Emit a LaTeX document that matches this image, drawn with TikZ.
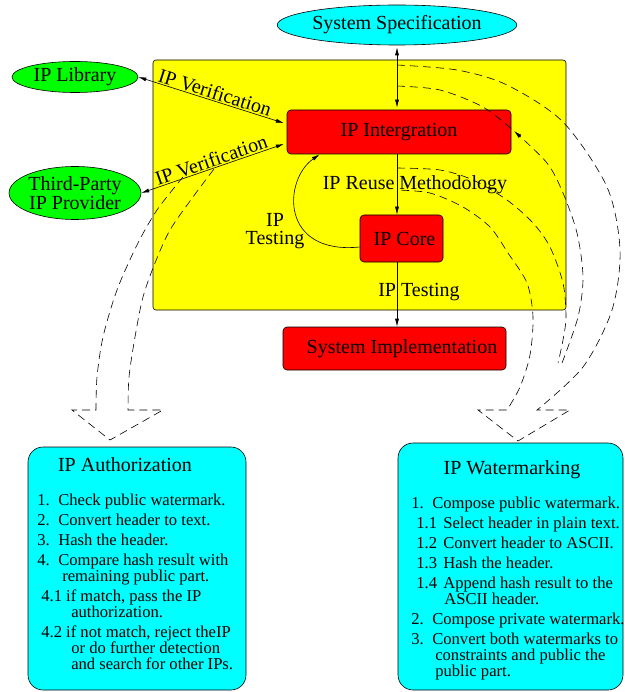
\documentclass[tikz,border=0pt]{standalone}
\usepackage{fontspec}
\setmainfont{Liberation Serif}
\usetikzlibrary{shapes.geometric,arrows.meta}

\definecolor{ipyellow}{RGB}{255,255,0}
\definecolor{ipred}{RGB}{255,0,0}
\definecolor{ipgreen}{RGB}{0,255,0}
\definecolor{ipcyan}{RGB}{0,255,255}

\tikzset{
  >={Latex[length=8pt,width=4pt]},
  every node/.style={font=\fontsize{20}{18}\selectfont},
  redbox/.style={draw,fill=ipred,rounded corners=4pt,inner sep=0pt},
  oval/.style={draw,ellipse,inner sep=0pt,align=center},
  notebox/.style={draw,fill=ipcyan,rounded corners=15pt,inner sep=0pt},
  steps/.style={anchor=north west,inner sep=0pt,align=left,font=\fontsize{16.6}{16}\selectfont},
  band/.style={dash pattern=on 8pt off 5pt}
}

\begin{document}
\begin{tikzpicture}[x=1pt,y=-1pt,line width=0.6pt]
  \useasboundingbox (0,0) rectangle (624,692);

  \node[draw,fill=ipyellow,rounded corners=3pt,minimum width=413pt,minimum height=250pt] (flow) at (359.5,185) {};

  \node[oval,fill=ipcyan,minimum width=224pt,minimum height=40pt] (spec) at (397,25) {System Specification};
  \node[oval,fill=ipgreen,minimum width=126pt,minimum height=31pt] (lib) at (75,77) {IP Library};
  \node[oval,fill=ipgreen,minimum width=126pt,minimum height=53pt] (third) at (75,193) {Third-Party\\IP Provider};

  \node[redbox,minimum width=224pt,minimum height=44pt] (integ) at (399,132) {IP Intergration};
  \node[redbox,minimum width=83pt,minimum height=47pt] (core) at (401.5,238.5) {\hspace*{6pt}IP Core};
  \node[redbox,minimum width=223pt,minimum height=43pt] (impl) at (394.5,348.5) {\hspace*{15pt}System Implementation};

  \node[align=center] (looplbl) at (275,231) {IP\\Testing};

  % the two notes below
  \node[notebox,minimum width=218pt,minimum height=243pt] (auth) at (137,568.5) {};
  \node (authtitle) at (125,465) {IP Authorization};
  \node[steps] (authsteps) at (37,493.5) {%
    \makebox[21pt][l]{1.}Check public watermark.\\[4pt]
    \makebox[21pt][l]{2.}Convert header to text.\\[4pt]
    \makebox[21pt][l]{3.}Hash the header.\\[4pt]
    \makebox[21pt][l]{4.}Compare hash result with\\
    \hspace*{25pt}remaining public part.\\[4pt]
    \hspace*{4pt}4.1 if match, pass the IP\\
    \hspace*{34pt}authorization.\\[4pt]
    \hspace*{4pt}4.2 if not match, reject theIP\\
    \hspace*{34pt}or do further detection\\
    \hspace*{34pt}and search for other IPs.};

  \node[notebox,minimum width=225pt,minimum height=247pt] (mark) at (510.5,566.5) {};
  \node (marktitle) at (512,470) {IP Watermarking};
  \node[steps] (marksteps) at (411,497) {%
    \makebox[21pt][l]{1.}Compose public watermark.\\[4pt]
    \hspace*{5pt}\makebox[27pt][l]{1.1}Select header in plain text.\\[4pt]
    \hspace*{5pt}\makebox[27pt][l]{1.2}Convert header to ASCII.\\[4pt]
    \hspace*{5pt}\makebox[27pt][l]{1.3}Hash the header.\\[4pt]
    \hspace*{5pt}\makebox[27pt][l]{1.4}Append hash result to the\\
    \hspace*{33pt}ASCII header.\\[4pt]
    \makebox[21pt][l]{2.}Compose private watermark.\\[4pt]
    \makebox[21pt][l]{3.}Convert both watermarks to\\
    \hspace*{24pt}constraints and public the\\
    \hspace*{24pt}public part.};

  % dashed bands
  \draw[band] plot[smooth] coordinates {(183,177) (157,210) (137,245) (117,290) (103,337) (97,377) (96,410)}
    -- (72,410) -- (110,440) -- (163,410) -- (128,410)
    -- plot[smooth] coordinates {(128,410) (129,377) (135,337) (143,297) (155,263) (170,230) (193,197) (217,165)};
  \draw[band] plot[smooth] coordinates {(397,65) (457,70) (507,85) (563,122) (607,187) (620,250) (612,310) (583,367) (537,410)}
    -- (570,410) -- (518,441) -- (478,410) -- (507,410)
    -- plot[smooth] coordinates {(507,410) (520,387) (530,355) (533,317) (527,283) (508,253) (490,227) (463,207) (430,193) (397,190)};
  \draw[band] plot[smooth] coordinates {(397,86) (440,90) (483,107) (514,131)};
  \draw[band,->] plot[smooth] coordinates {(562,363) (578,317) (583,277) (577,233) (563,193) (547,163) (514,131)};
  \draw[band] plot[smooth] coordinates {(397,168) (440,170) (473,180) (507,200) (533,223) (550,247) (563,283) (566,317) (563,340) (558,363)};

  \draw[<->,shorten <=2pt,shorten >=2pt] (spec) -- (spec |- integ.north);
  \draw[->] (integ.south -| spec) -- (core.north -| spec) node[midway,xshift=18pt] {IP Reuse Methodology};
  \draw[->] (core.south -| spec) -- (impl.north -| spec) node[midway,xshift=22pt,yshift=2pt] {IP Testing};
  \draw[<->,shorten >=3pt] (lib.east) -- ([yshift=8pt]integ.west) node[midway,above,sloped,inner sep=1pt] {IP Verification};
  \draw[<->,shorten >=3pt] (third.east) -- ([yshift=-11pt]integ.west) node[midway,above,sloped,inner sep=1pt] {IP Verification};
  \draw[->] ([yshift=-8.5pt]core.west) .. controls (280,255) and (283,180) .. ([xshift=33pt]integ.south west);
\end{tikzpicture}
\end{document}
